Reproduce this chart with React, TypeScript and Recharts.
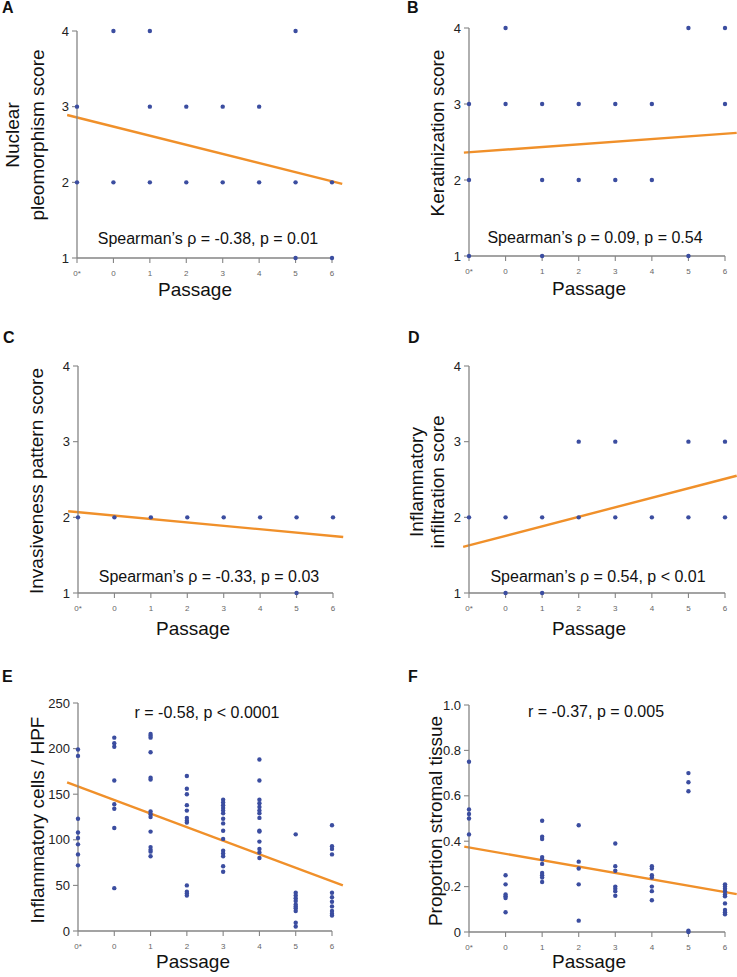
import React from "react";
import { ScatterChart, Scatter, XAxis, YAxis, ReferenceLine } from "recharts";

const passageLabels = ["0*", "0", "1", "2", "3", "4", "5", "6"];
const passageValues = [-1, 0, 1, 2, 3, 4, 5, 6];

const nuclearScores = [[3, 2], [4, 2], [4, 3, 2], [3, 2], [3, 2], [3, 2], [4, 2, 1], [2, 1]];
const keratinScores = [[3, 2, 1], [4, 3], [3, 2, 1], [3, 2], [3, 2], [3, 2], [4, 1], [4, 3]];
const invasionScores = [[2], [2], [2], [2], [2], [2], [2, 1], [2]];
const infiltrationScores = [[2], [2, 1], [2, 1], [3, 2], [3, 2], [2], [3, 2], [3, 2]];
const inflammatoryCells = [
  [199, 192, 123, 108, 102, 95, 84, 72],
  [212, 206, 202, 165, 139, 134, 113, 47],
  [216, 214, 212, 196, 168, 166, 131, 128, 125, 109, 92, 89, 87, 82],
  [170, 156, 150, 138, 132, 124, 121, 119, 50, 43, 41, 39],
  [144, 141, 138, 135, 132, 129, 123, 118, 110, 101, 88, 85, 82, 71, 65],
  [188, 165, 144, 140, 136, 132, 129, 124, 110, 109, 98, 90, 86, 80],
  [106, 42, 39, 36, 33, 29, 27, 25, 22, 9, 5],
  [116, 93, 90, 84, 42, 37, 32, 27, 22, 19, 17],
];
const stromalProportion = [
  [0.75, 0.54, 0.52, 0.5, 0.43],
  [0.25, 0.21, 0.165, 0.157, 0.15, 0.087],
  [0.49, 0.42, 0.41, 0.33, 0.32, 0.3, 0.26, 0.25, 0.24, 0.22],
  [0.47, 0.31, 0.28, 0.21, 0.05],
  [0.39, 0.29, 0.27, 0.2, 0.19, 0.18, 0.16],
  [0.29, 0.28, 0.25, 0.24, 0.2, 0.18, 0.14],
  [0.7, 0.66, 0.62, 0.006, 0],
  [0.21, 0.2, 0.19, 0.18, 0.165, 0.157, 0.126, 0.097, 0.087, 0.078],
];

const nuclearTrend = [[-1.27, 2.89], [6.28, 1.98]];
const keratinTrend = [[-1.14, 2.36], [6.32, 2.62]];
const invasionTrend = [[-1.27, 2.08], [6.28, 1.74]];
const infiltrationTrend = [[-1.16, 1.61], [6.32, 2.55]];
const inflammatoryTrend = [[-1.3, 163], [6.3, 50]];
const stromalTrend = [[-1.13, 0.376], [6.32, 0.167]];

const scoreTicks = [1, 2, 3, 4];
const cellTicks = [0, 50, 100, 150, 200, 250];
const stromalTicks = [0, 0.2, 0.4, 0.6, 0.8, 1.0];

const FONT = "'Liberation Sans', Arial, Helvetica, sans-serif";
const DOT = "#3B4DA0";
const TREND = "#F0902A";
const AXIS = "#858585";

const Dot = (props: any) => {
  const { cx, cy } = props;
  if (cx == null || cy == null) return null;
  return <circle cx={cx} cy={cy} r={2.2} fill={DOT} />;
};

type PanelProps = {
  left: number; top: number; width: number; height: number;
  plot: { l: number; r: number; t: number; b: number };
  yDomain: [number, number]; yTicks: number[]; yFormat?: (v: number) => string;
  values: number[][]; trend: number[][];
  titleLines: string[]; titleXs: number[]; titleY: number;
  note: string; noteX: number; noteY: number;
  passX: number; passY: number;
  letter: string; letterX: number; letterY: number;
};

function Panel(p: PanelProps) {
  const points = p.values.flatMap((vals, i) => vals.map((v) => ({ x: passageValues[i], y: v })));
  const texts = () => (
    <g style={{ fontFamily: FONT }}>
      <text x={p.letterX} y={p.letterY} fontSize={16} fontWeight="bold" fill="#111">{p.letter}</text>
      {p.titleLines.map((line, i) => (
        <text key={i} x={p.titleXs[i]} y={p.titleY} fontSize={19} fill="#111" textAnchor="middle"
          dominantBaseline="central" transform={`rotate(-90 ${p.titleXs[i]} ${p.titleY})`}>{line}</text>
      ))}
      <text x={p.noteX} y={p.noteY} fontSize={16} fill="#111" textAnchor="middle">{p.note}</text>
      <text x={p.passX} y={p.passY} fontSize={19} fill="#111" textAnchor="middle">Passage</text>
    </g>
  );
  return (
    <div style={{ position: "absolute", left: p.left, top: p.top }}>
      <ScatterChart
        width={p.width}
        height={p.height}
        margin={{ top: p.plot.t, right: p.width - p.plot.r, left: 0, bottom: p.height - p.plot.b - 30 }}
        style={{ fontFamily: FONT }}
      >
        <XAxis
          type="number"
          dataKey="x"
          domain={[-1, 6]}
          ticks={passageValues}
          tickFormatter={(v: number) => passageLabels[passageValues.indexOf(v)]}
          height={30}
          tickSize={5}
          tickMargin={7}
          tick={{ fontSize: 8, fill: "#666" }}
          axisLine={{ stroke: AXIS, strokeWidth: 1.3 }}
          tickLine={{ stroke: AXIS, strokeWidth: 1.1 }}
          label={texts}
        />
        <YAxis
          type="number"
          dataKey="y"
          domain={p.yDomain}
          ticks={p.yTicks}
          tickFormatter={p.yFormat}
          width={p.plot.l}
          tickSize={5}
          tickMargin={3}
          tick={{ fontSize: 13, fill: "#222" }}
          axisLine={{ stroke: AXIS, strokeWidth: 1.3 }}
          tickLine={{ stroke: AXIS, strokeWidth: 1.1 }}
        />
        <Scatter data={points} shape={Dot} isAnimationActive={false} />
        <ReferenceLine
          segment={[{ x: p.trend[0][0], y: p.trend[0][1] }, { x: p.trend[1][0], y: p.trend[1][1] }]}
          ifOverflow="visible"
          stroke={TREND}
          strokeWidth={2.4}
        />
      </ScatterChart>
    </div>
  );
}

const fmtStromal = (v: number) => (v === 0 ? "0" : v.toFixed(1));

export default function App() {
  return (
    <div style={{ position: "absolute", left: 0, top: 0, width: 737, height: 977, background: "#fff", overflow: "hidden" }}>
      <Panel left={0} top={0} width={368} height={310} plot={{ l: 77, r: 332, t: 31, b: 258 }}
        yDomain={[1, 4]} yTicks={scoreTicks} values={nuclearScores} trend={nuclearTrend}
        titleLines={["Nuclear", "pleomorphism score"]} titleXs={[12, 37]} titleY={135}
        note="Spearman’s ρ = -0.38, p = 0.01" noteX={208} noteY={244}
        passX={195} passY={296} letter="A" letterX={2} letterY={13} />
      <Panel left={368} top={0} width={369} height={310} plot={{ l: 101, r: 357, t: 28, b: 256 }}
        yDomain={[1, 4]} yTicks={scoreTicks} values={keratinScores} trend={keratinTrend}
        titleLines={["Keratinization score"]} titleXs={[69]} titleY={133}
        note="Spearman’s ρ = 0.09, p = 0.54" noteX={227} noteY={243}
        passX={221} passY={295} letter="B" letterX={39} letterY={13} />
      <Panel left={0} top={310} width={368} height={330} plot={{ l: 78, r: 333, t: 56, b: 283 }}
        yDomain={[1, 4]} yTicks={scoreTicks} values={invasionScores} trend={invasionTrend}
        titleLines={["Invasiveness pattern score"]} titleXs={[36]} titleY={171}
        note="Spearman’s ρ = -0.33, p = 0.03" noteX={209} noteY={272}
        passX={193} passY={325} letter="C" letterX={3} letterY={33} />
      <Panel left={368} top={310} width={369} height={330} plot={{ l: 101, r: 357, t: 56, b: 283 }}
        yDomain={[1, 4]} yTicks={scoreTicks} values={infiltrationScores} trend={infiltrationTrend}
        titleLines={["Inflammatory", "infiltration score"]} titleXs={[48, 69]} titleY={172}
        note="Spearman’s ρ = 0.54, p < 0.01" noteX={230} noteY={272}
        passX={221} passY={325} letter="D" letterX={40} letterY={33} />
      <Panel left={0} top={640} width={368} height={337} plot={{ l: 78, r: 332, t: 63, b: 291 }}
        yDomain={[0, 250]} yTicks={cellTicks} values={inflammatoryCells} trend={inflammatoryTrend}
        titleLines={["Inflammatory cells / HPF"]} titleXs={[37]} titleY={180}
        note="r = -0.58, p < 0.0001" noteX={207} noteY={78}
        passX={193} passY={328} letter="E" letterX={2} letterY={42} />
      <Panel left={368} top={640} width={369} height={337} plot={{ l: 101, r: 357, t: 65, b: 292 }}
        yDomain={[0, 1]} yTicks={stromalTicks} yFormat={fmtStromal} values={stromalProportion} trend={stromalTrend}
        titleLines={["Proportion stromal tissue"]} titleXs={[67]} titleY={181}
        note="r = -0.37, p = 0.005" noteX={228} noteY={77}
        passX={221} passY={328} letter="F" letterX={40} letterY={42} />
    </div>
  );
}
